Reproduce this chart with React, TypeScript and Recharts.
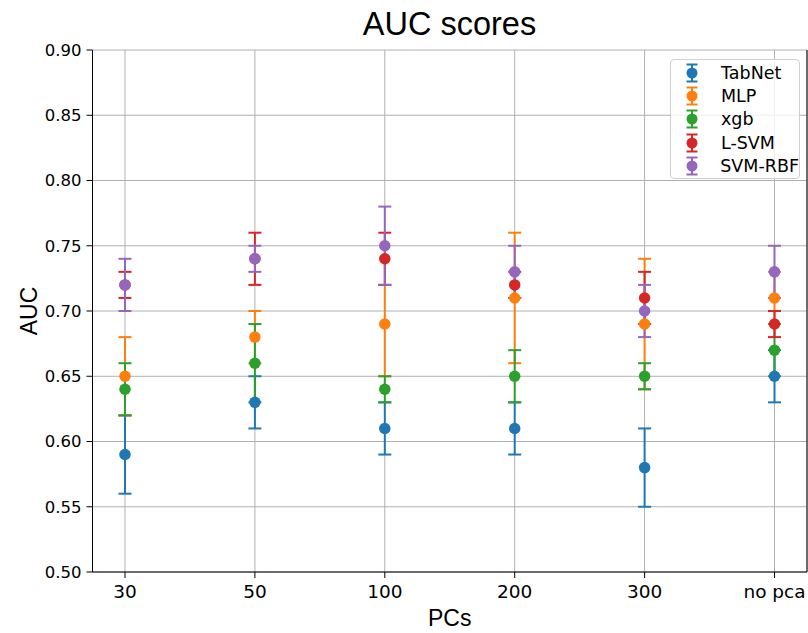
import {
  ComposedChart, Line, ErrorBar, XAxis, YAxis, CartesianGrid, Legend, Label,
} from "recharts";

const categories = ["30", "50", "100", "200", "300", "no pca"];
const yTicks = [0.5, 0.55, 0.6, 0.65, 0.7, 0.75, 0.8, 0.85, 0.9];

// mean AUC and error per model
const tabnet = [0.59, 0.63, 0.61, 0.61, 0.58, 0.65];
const tabnetErr = [0.03, 0.02, 0.02, 0.02, 0.03, 0.02];
const mlp = [0.65, 0.68, 0.69, 0.71, 0.69, 0.71];
const mlpErr: (number | number[])[] = [0.03, 0.02, [0.04, 0.03], 0.05, 0.05, 0.02];
const xgb = [0.64, 0.66, 0.64, 0.65, 0.65, 0.67];
const xgbErr = [0.02, 0.03, 0.01, 0.02, 0.01, 0.02];
const lsvm = [0.72, 0.74, 0.74, 0.72, 0.71, 0.69];
const lsvmErr = [0.01, 0.02, 0.02, 0.01, 0.02, 0.01];
const svmRbf = [0.72, 0.74, 0.75, 0.73, 0.70, 0.73];
const svmRbfErr = [0.02, 0.01, 0.03, 0.02, 0.02, 0.02];

const seriesList = [
  { key: "tabnet", name: "TabNet", color: "#1f77b4", values: tabnet, errors: tabnetErr },
  { key: "mlp", name: "MLP", color: "#ff7f0e", values: mlp, errors: mlpErr },
  { key: "xgb", name: "xgb", color: "#2ca02c", values: xgb, errors: xgbErr },
  { key: "lsvm", name: "L-SVM", color: "#d62728", values: lsvm, errors: lsvmErr },
  { key: "svmrbf", name: "SVM-RBF", color: "#9467bd", values: svmRbf, errors: svmRbfErr },
];

const data = categories.map((pc, i) => {
  const row: Record<string, any> = { pc };
  seriesList.forEach((s) => {
    row[s.key] = s.values[i];
    row[s.key + "Err"] = s.errors[i];
  });
  return row;
});

const xTickStyle = { fill: "#000", fontSize: 18.5, fontFamily: "DejaVu Sans" };
const yTickStyle = { fill: "#000", fontSize: 16.5, fontFamily: "DejaVu Sans" };
const labelFont = "Liberation Sans, Arial, sans-serif";

function LegendBox() {
  return (
    <div
      style={{
        width: 130,
        boxSizing: "border-box",
        border: "1px solid #d0d0d0",
        borderRadius: 4,
        background: "rgba(255,255,255,0.8)",
        padding: "1px 0 1px 10px",
      }}
    >
      {seriesList.map((s) => (
        <div key={s.key} style={{ display: "flex", alignItems: "center", height: 23.3 }}>
          <svg width={22} height={20} style={{ display: "block" }}>
            <line x1={11} y1={1.5} x2={11} y2={18.5} stroke={s.color} strokeWidth={2} />
            <line x1={5.5} y1={1.5} x2={16.5} y2={1.5} stroke={s.color} strokeWidth={2} />
            <line x1={5.5} y1={18.5} x2={16.5} y2={18.5} stroke={s.color} strokeWidth={2} />
            <circle cx={11} cy={10} r={5.5} fill={s.color} />
          </svg>
          <span style={{ marginLeft: 18, fontFamily: "DejaVu Sans", fontSize: 17.5, color: "#000", whiteSpace: "nowrap" }}>
            {s.name}
          </span>
        </div>
      ))}
    </div>
  );
}

export default function App() {
  return (
    <div style={{ position: "absolute", left: 0, top: 0, width: 808, height: 633, background: "#fff" }}>
      <div
        style={{
          position: "absolute",
          left: 92,
          top: 8,
          width: 715,
          textAlign: "center",
          fontFamily: labelFont,
          fontSize: 32.5,
          lineHeight: "32px",
          color: "#000",
        }}
      >
        AUC scores
      </div>
      <ComposedChart width={808} height={633} data={data} margin={{ top: 50, right: 0, bottom: 0, left: 0 }}>
        <CartesianGrid stroke="#b0b0b0" strokeWidth={1} />
        <XAxis
          dataKey="pc"
          type="category"
          padding={{ left: 32.5, right: 32.5 }}
          height={61}
          tick={xTickStyle}
          tickSize={6}
          tickMargin={7}
          stroke="#000"
          interval={0}
        >
          <Label
            content={({ viewBox }: any) => (
              <text
                x={viewBox.x + viewBox.width / 2}
                y={viewBox.y + 54}
                textAnchor="middle"
                fontFamily={labelFont}
                fontSize={23}
                fill="#000"
              >
                PCs
              </text>
            )}
          />
        </XAxis>
        <XAxis xAxisId="top" orientation="top" height={0} tick={false} tickLine={false} stroke="#000" />
        <YAxis
          domain={[0.5, 0.9]}
          ticks={yTicks}
          tickFormatter={(v: number) => v.toFixed(2)}
          width={92.5}
          tick={yTickStyle}
          tickSize={6}
          tickMargin={5}
          stroke="#000"
          interval={0}
        >
          <Label
            content={({ viewBox }: any) => {
              const cx = 29;
              const cy = viewBox.y + viewBox.height / 2;
              return (
                <text
                  x={cx}
                  y={cy}
                  transform={`rotate(-90 ${cx} ${cy})`}
                  textAnchor="middle"
                  dominantBaseline="central"
                  fontFamily={labelFont}
                  fontSize={23}
                  fill="#000"
                >
                  AUC
                </text>
              );
            }}
          />
        </YAxis>
        <YAxis
          yAxisId="right"
          orientation="right"
          width={1}
          domain={[0.5, 0.9]}
          tick={false}
          tickLine={false}
          stroke="#000"
        />
        <Legend
          content={LegendBox}
          layout="vertical"
          align="center"
          verticalAlign="middle"
          wrapperStyle={{ top: 59, left: 670, width: 130 }}
        />
        {seriesList.map((s) => (
          <Line
            key={s.key}
            dataKey={s.key}
            name={s.name}
            stroke="none"
            dot={{ r: 5.75, fill: s.color, stroke: s.color, strokeWidth: 0 }}
            activeDot={false}
            isAnimationActive={false}
          >
            <ErrorBar
              dataKey={s.key + "Err"}
              direction="y"
              width={6.5}
              stroke={s.color}
              strokeWidth={2}
              isAnimationActive={false}
            />
          </Line>
        ))}
      </ComposedChart>
    </div>
  );
}
